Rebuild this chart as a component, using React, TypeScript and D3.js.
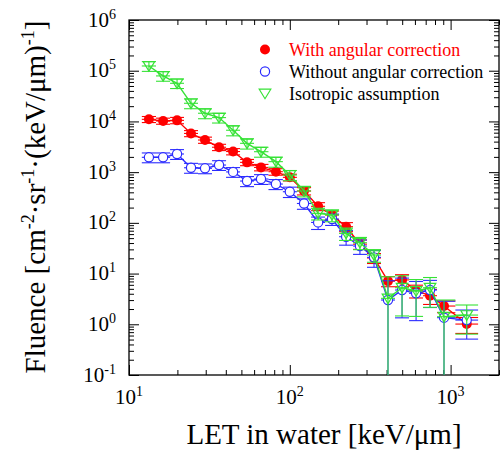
import React, { useEffect, useRef } from 'react';
import * as d3 from 'd3';

// LET bin centres [keV/um]
const letBins = [13.3, 16.3, 19.9, 24.3, 29.7, 36.3, 44.4, 54.2, 66.2, 82, 100, 122.6, 150, 183, 224, 273, 334, 408, 499, 610, 745, 910, 1260];

// fluence, with angular correction (red)
const withCorr = [1.1e4, 1.02e4, 1.05e4, 5.8e3, 4.3e3, 3.1e3, 2.55e3, 1.56e3, 1.24e3, 1.02e3, 790, 425, 212, 143, 84, 38, 20.3, 7.1, 7.5, 4.6, 3.66, 2.29, 1.01];
const withCorrErr = [1.5e3, 1.4e3, 1.5e3, 800, 600, 440, 360, 220, 180, 150, 120, 70, 38, 28, 17, 8, 4.5, 1.6, 2.0, 1.3, 1.2, 0.6, 0.35];

// fluence, without angular correction (blue)
const withoutCorr = [1.96e3, 1.96e3, 2.28e3, 1.22e3, 1.19e3, 1.38e3, 1.01e3, 668, 732, 583, 411, 241, 102, 119, 53.3, 34.9, 20.9, 3.01, 4.74, 4.08, 4.74, 1.35, 1.21];
const withoutCorrErr = [430, 430, 500, 270, 260, 300, 220, 150, 160, 130, 95, 56, 28, 30, 17, 11, 7.6, 4.2, 3.4, 2.9, 2.6, 1.5, 0.7];

// fluence, isotropic assumption (green)
const isotropic = [1.24e5, 7.9e4, 5.65e4, 2.28e4, 1.45e4, 1.19e4, 6.7e3, 3.7e3, 2.53e3, 1.61e3, 877, 425, 154, 143, 62, 40.6, 23.2, 3.25, 5.26, 4.53, 5.26, 1.41, 1.52];
const isotropicErr = [2.7e4, 1.7e4, 1.2e4, 5e3, 3.2e3, 2.6e3, 1.5e3, 850, 560, 360, 200, 100, 40, 38, 17, 11, 6.5, 5.4, 3.8, 3.1, 3.1, 1.6, 0.88];

const legendLabels = ['With angular correction', 'Without angular correction', 'Isotropic assumption'];
const xTickExps = [1, 2, 3];
const yTickExps = [-1, 0, 1, 2, 3, 4, 5, 6];

const RED = '#ff0000';
const BLUE = '#2b2bff';
const GREEN = '#36e236';
const FONT = '"Liberation Serif", "Times New Roman", Times, serif';

function App() {
  const ref = useRef(null);

  useEffect(() => {
    const left = 129, right = 499, top = 20, bottom = 375;

    const svg = d3.select(ref.current);
    svg.selectAll('*').remove();
    svg.attr('font-family', FONT);

    const x = d3.scaleLog().domain([10, 2000]).range([left, right]);
    const y = d3.scaleLog().domain([0.1, 1e6]).range([bottom, top]);

    const isMajor = (v) => Math.abs(Math.log10(v) - Math.round(Math.log10(v))) < 1e-6;
    const xMinor = x.ticks().filter((v) => !isMajor(v));
    const yMinor = y.ticks().filter((v) => !isMajor(v));
    const xMajor = xTickExps.map((e) => Math.pow(10, e));
    const yMajor = yTickExps.map((e) => Math.pow(10, e));

    const cleanAxis = (g) => {
      g.select('.domain').remove();
      g.selectAll('.tick line').attr('stroke', '#000').attr('stroke-width', 1);
      g.selectAll('.tick text').remove();
    };

    // inward ticks on all four sides
    [
      [xMinor, 5],
      [xMajor, 10],
    ].forEach(([vals, len]) => {
      svg.append('g').attr('transform', `translate(0,${bottom})`)
        .call(d3.axisBottom(x).tickValues(vals).tickSize(-len).tickSizeOuter(0)).call(cleanAxis);
      svg.append('g').attr('transform', `translate(0,${top})`)
        .call(d3.axisTop(x).tickValues(vals).tickSize(-len).tickSizeOuter(0)).call(cleanAxis);
    });
    [
      [yMinor, 5],
      [yMajor, 10],
    ].forEach(([vals, len]) => {
      svg.append('g').attr('transform', `translate(${left},0)`)
        .call(d3.axisLeft(y).tickValues(vals).tickSize(-len).tickSizeOuter(0)).call(cleanAxis);
      svg.append('g').attr('transform', `translate(${right},0)`)
        .call(d3.axisRight(y).tickValues(vals).tickSize(-len).tickSizeOuter(0)).call(cleanAxis);
    });

    // frame
    svg.append('rect')
      .attr('x', left).attr('y', top)
      .attr('width', right - left).attr('height', bottom - top)
      .attr('fill', 'none').attr('stroke', '#000').attr('stroke-width', 1.3);

    // tick labels
    xTickExps.forEach((e) => {
      const t = svg.append('text')
        .attr('x', x(Math.pow(10, e))).attr('y', 404)
        .attr('text-anchor', 'middle').attr('font-size', 21);
      t.append('tspan').text('10');
      t.append('tspan').attr('dy', -8).attr('font-size', 14).text(e);
    });
    yTickExps.forEach((e) => {
      const t = svg.append('text')
        .attr('x', 116).attr('y', y(Math.pow(10, e)) + 6.5)
        .attr('text-anchor', 'end').attr('font-size', 21);
      t.append('tspan').text('10');
      t.append('tspan').attr('dy', -8).attr('font-size', 14).text(e < 0 ? '-' + Math.abs(e) : e);
    });

    // bin edges for horizontal bars
    const edges = letBins.map((v, i) => {
      const lo = i > 0 ? Math.sqrt(letBins[i - 1] * v) : (v * v) / Math.sqrt(v * letBins[i + 1]);
      const hi = i < letBins.length - 1 ? Math.sqrt(v * letBins[i + 1]) : (v * v) / Math.sqrt(letBins[i - 1] * v);
      return [lo, hi];
    });

    const yClamp = (v) => (v > 0.1 ? y(v) : bottom);

    const line = d3.line()
      .x((d) => x(d[0]))
      .y((d) => y(d[1]));

    function drawSeries(values, errs, color, marker) {
      const g = svg.append('g');
      const pts = letBins.map((l, i) => [l, values[i], errs[i], i]);

      const eb = g.append('g').attr('stroke', color).attr('stroke-width', 1.1).attr('fill', 'none');
      pts.forEach(([l, v, e, i]) => {
        const [x0, x1] = edges[i];
        const yh = yClamp(v + e);
        const yl = yClamp(v - e);
        eb.append('line').attr('x1', x(l)).attr('x2', x(l)).attr('y1', yh).attr('y2', yl);
        eb.append('line').attr('x1', x(x0)).attr('x2', x(x1)).attr('y1', yh).attr('y2', yh);
        if (v - e > 0.1) eb.append('line').attr('x1', x(x0)).attr('x2', x(x1)).attr('y1', yl).attr('y2', yl);
        eb.append('line').attr('x1', x(x0)).attr('x2', x(x1)).attr('y1', y(v)).attr('y2', y(v));
      });

      g.append('path')
        .datum(pts)
        .attr('fill', 'none')
        .attr('stroke', color)
        .attr('stroke-width', 1.4)
        .attr('d', line);

      g.selectAll('.m')
        .data(pts)
        .join((enter) => marker(enter.append('g').attr('transform', (d) => `translate(${x(d[0])},${y(d[1])})`)));
    }

    const redDot = (s) => s.append('circle').attr('r', 5).attr('fill', RED);
    const blueRing = (s) => s.append('circle').attr('r', 4.6).attr('fill', '#fff').attr('stroke', BLUE).attr('stroke-width', 1.2);
    const greenTri = (s) => s.append('path').attr('d', 'M-5.8,-4.3L5.8,-4.3L0,5.2Z').attr('fill', 'none')
      .attr('stroke', GREEN).attr('stroke-width', 1.2).attr('stroke-linejoin', 'miter');

    drawSeries(withCorr, withCorrErr, RED, redDot);
    drawSeries(withoutCorr, withoutCorrErr, BLUE, blueRing);
    drawSeries(isotropic, isotropicErr, GREEN, greenTri);

    // legend
    const legend = svg.append('g').attr('font-size', 18);
    const markers = [redDot, blueRing, greenTri];
    const colors = [RED, '#000', '#000'];
    legendLabels.forEach((label, i) => {
      const cy = 49.5 + i * 22;
      markers[i](legend.append('g').attr('transform', `translate(265,${cy})`));
      legend.append('text').attr('x', 289).attr('y', cy + 6).attr('fill', colors[i]).text(label);
    });

    // axis titles
    svg.append('text')
      .attr('x', 324).attr('y', 444)
      .attr('text-anchor', 'middle').attr('font-size', 29)
      .text('LET in water [keV/\u03bcm]');

    const yt = svg.append('text')
      .attr('transform', `translate(45,197) rotate(-90)`)
      .attr('text-anchor', 'middle').attr('font-size', 29);
    yt.append('tspan').text('Fluence [cm');
    yt.append('tspan').attr('dy', -11).attr('font-size', 18).text('-2');
    yt.append('tspan').attr('dy', 11).text('\u00b7sr');
    yt.append('tspan').attr('dy', -11).attr('font-size', 18).text('-1');
    yt.append('tspan').attr('dy', 11).text('\u00b7(keV/\u03bcm)');
    yt.append('tspan').attr('dy', -11).attr('font-size', 18).text('-1');
    yt.append('tspan').attr('dy', 11).text(']');
  }, []);

  return (
    <svg
      ref={ref}
      width={502}
      height={451}
      style={{ position: 'absolute', left: 0, top: 0, background: '#fff' }}
    />
  );
}

export default App;
